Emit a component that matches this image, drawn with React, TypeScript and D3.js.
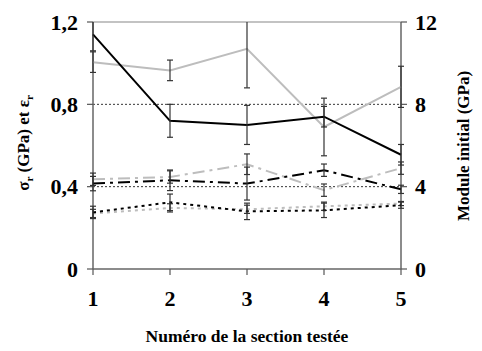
import * as d3 from "d3";

const sections = [1, 2, 3, 4, 5];

// left axis (GPa / strain)
const strength = [1.14, 0.72, 0.7, 0.74, 0.555];
const strengthErr = [0.08, 0.08, 0.095, 0.05, 0.05];
// right axis (GPa)
const modulus = [10.05, 9.65, 10.7, 6.9, 8.85];
const modulusErr = [0.5, 0.5, 1.9, 1.4, 1.0];

const blackDashDot = [0.415, 0.431, 0.415, 0.48, 0.387];
const blackDashDotErr = [0.035, 0.05, 0.08, 0.03, 0.02];
const greyDashDot = [0.436, 0.447, 0.509, 0.383, 0.49];
const greyDashDotErr = [0.03, 0.03, 0.05, 0.03, 0.03];

const blackDotted = [0.275, 0.324, 0.28, 0.285, 0.31];
const blackDottedErr = [0.03, 0.04, 0.04, 0.035, 0.015];
const greyDotted = [0.27, 0.297, 0.29, 0.305, 0.318];
const greyDottedErr = [0.02, 0.02, 0.02, 0.02, 0.01];

const leftTicks = [0, 0.4, 0.8, 1.2];
const rightTicks = [0, 4, 8, 12];
const gridTicks = [0.4, 0.8];

const W = 482;
const H = 351;
const m = { left: 93, right: 81, top: 22, bottom: 82 };

const x = d3.scaleLinear().domain([1, 5]).range([m.left, W - m.right]);
const yL = d3.scaleLinear().domain([0, 1.2]).range([H - m.bottom, m.top]);
const yR = d3.scaleLinear().domain([0, 12]).range([H - m.bottom, m.top]);

const fmt = (v: number) => d3.format("~g")(v).replace(".", ",");

type Series = {
  vals: number[];
  errs: number[];
  y: d3.ScaleLinear<number, number>;
  color: string;
  width: number;
  dash?: string;
};

const series: Series[] = [
  { vals: greyDotted, errs: greyDottedErr, y: yL, color: "#bdbdbd", width: 2, dash: "3,4" },
  { vals: blackDotted, errs: blackDottedErr, y: yL, color: "#000", width: 2, dash: "3,4" },
  { vals: greyDashDot, errs: greyDashDotErr, y: yL, color: "#bdbdbd", width: 2, dash: "12,5,3,5" },
  { vals: blackDashDot, errs: blackDashDotErr, y: yL, color: "#000", width: 2, dash: "12,5,3,5" },
  { vals: modulus, errs: modulusErr, y: yR, color: "#bdbdbd", width: 2 },
  { vals: strength, errs: strengthErr, y: yL, color: "#000", width: 2 },
];

const txt = {
  fontFamily: "'Times New Roman', 'Liberation Serif', serif",
  fontWeight: 700,
} as const;

export default function App() {
  const y0 = H - m.bottom;
  const x0 = m.left;
  const x1 = W - m.right;
  return (
    <svg width={W} height={H} style={{ position: "absolute", left: 0, top: 0 }}>
      <defs>
        <clipPath id="plot">
          <rect x={x0 - 10} y={m.top} width={x1 - x0 + 20} height={y0 - m.top + 1} />
        </clipPath>
      </defs>
      <rect width={W} height={H} fill="#fff" />
      {/* top border */}
      <line x1={x0} x2={x1} y1={m.top} y2={m.top} stroke="#888" strokeWidth={1.2} />
      {/* dotted grid */}
      {gridTicks.map((t) => (
        <line key={t} x1={x0} x2={x1} y1={yL(t)} y2={yL(t)} stroke="#000" strokeWidth={0.8} strokeDasharray="2,2" />
      ))}
      {/* axes */}
      <line x1={x0} x2={x0} y1={m.top} y2={y0} stroke="#666" strokeWidth={1.5} />
      <line x1={x1} x2={x1} y1={m.top} y2={y0} stroke="#666" strokeWidth={1.5} />
      <line x1={x0} x2={x1} y1={y0} y2={y0} stroke="#666" strokeWidth={1.5} />
      {leftTicks.map((t) => (
        <g key={"l" + t}>
          <line x1={x0 - 6} x2={x0} y1={yL(t)} y2={yL(t)} stroke="#555" strokeWidth={1.2} />
          <text x={x0 - 15} y={yL(t)} dy="0.35em" textAnchor="end" fontSize={22} style={txt}>
            {fmt(t)}
          </text>
        </g>
      ))}
      {rightTicks.map((t) => (
        <g key={"r" + t}>
          <line x1={x1} x2={x1 + 6} y1={yR(t)} y2={yR(t)} stroke="#555" strokeWidth={1.2} />
          <text x={x1 + 14} y={yR(t)} dy="0.35em" textAnchor="start" fontSize={22} style={txt}>
            {fmt(t)}
          </text>
        </g>
      ))}
      {sections.map((s) => (
        <g key={"b" + s}>
          <line x1={x(s)} x2={x(s)} y1={y0} y2={y0 + 6} stroke="#555" strokeWidth={1.2} />
          <text x={x(s)} y={y0 + 37} textAnchor="middle" fontSize={22} style={txt}>
            {s}
          </text>
        </g>
      ))}
      <g clipPath="url(#plot)">
        {series.map((se, i) => {
          const line = d3
            .line<number>()
            .x((_, j) => x(sections[j]))
            .y((d) => se.y(d));
          return (
            <g key={i}>
              <path d={line(se.vals) || ""} fill="none" stroke={se.color} strokeWidth={se.width} strokeDasharray={se.dash} />
              {se.vals.map((v, j) => {
                const cx = x(sections[j]);
                const top = se.y(v + se.errs[j]);
                const bot = se.y(v - se.errs[j]);
                return (
                  <g key={j} stroke="#333" strokeWidth={1.2}>
                    <line x1={cx} x2={cx} y1={top} y2={bot} />
                    <line x1={cx - 3} x2={cx + 3} y1={top} y2={top} />
                    <line x1={cx - 3} x2={cx + 3} y1={bot} y2={bot} />
                  </g>
                );
              })}
            </g>
          );
        })}
      </g>
      {/* axis titles */}
      <text transform={`translate(29,143) rotate(-90)`} textAnchor="middle" fontSize={17} style={txt}>
        σ<tspan fontSize={11} dy={4}>r</tspan>
        <tspan dy={-4}> (GPa) et ε</tspan>
        <tspan fontSize={11} dy={4}>r</tspan>
      </text>
      <text transform={`translate(469,146) rotate(-90)`} textAnchor="middle" fontSize={17} style={txt}>
        Module initial (GPa)
      </text>
      <text x={(x0 + x1) / 2} y={342} textAnchor="middle" fontSize={17.5} style={txt}>
        Numéro de la section testée
      </text>
    </svg>
  );
}
